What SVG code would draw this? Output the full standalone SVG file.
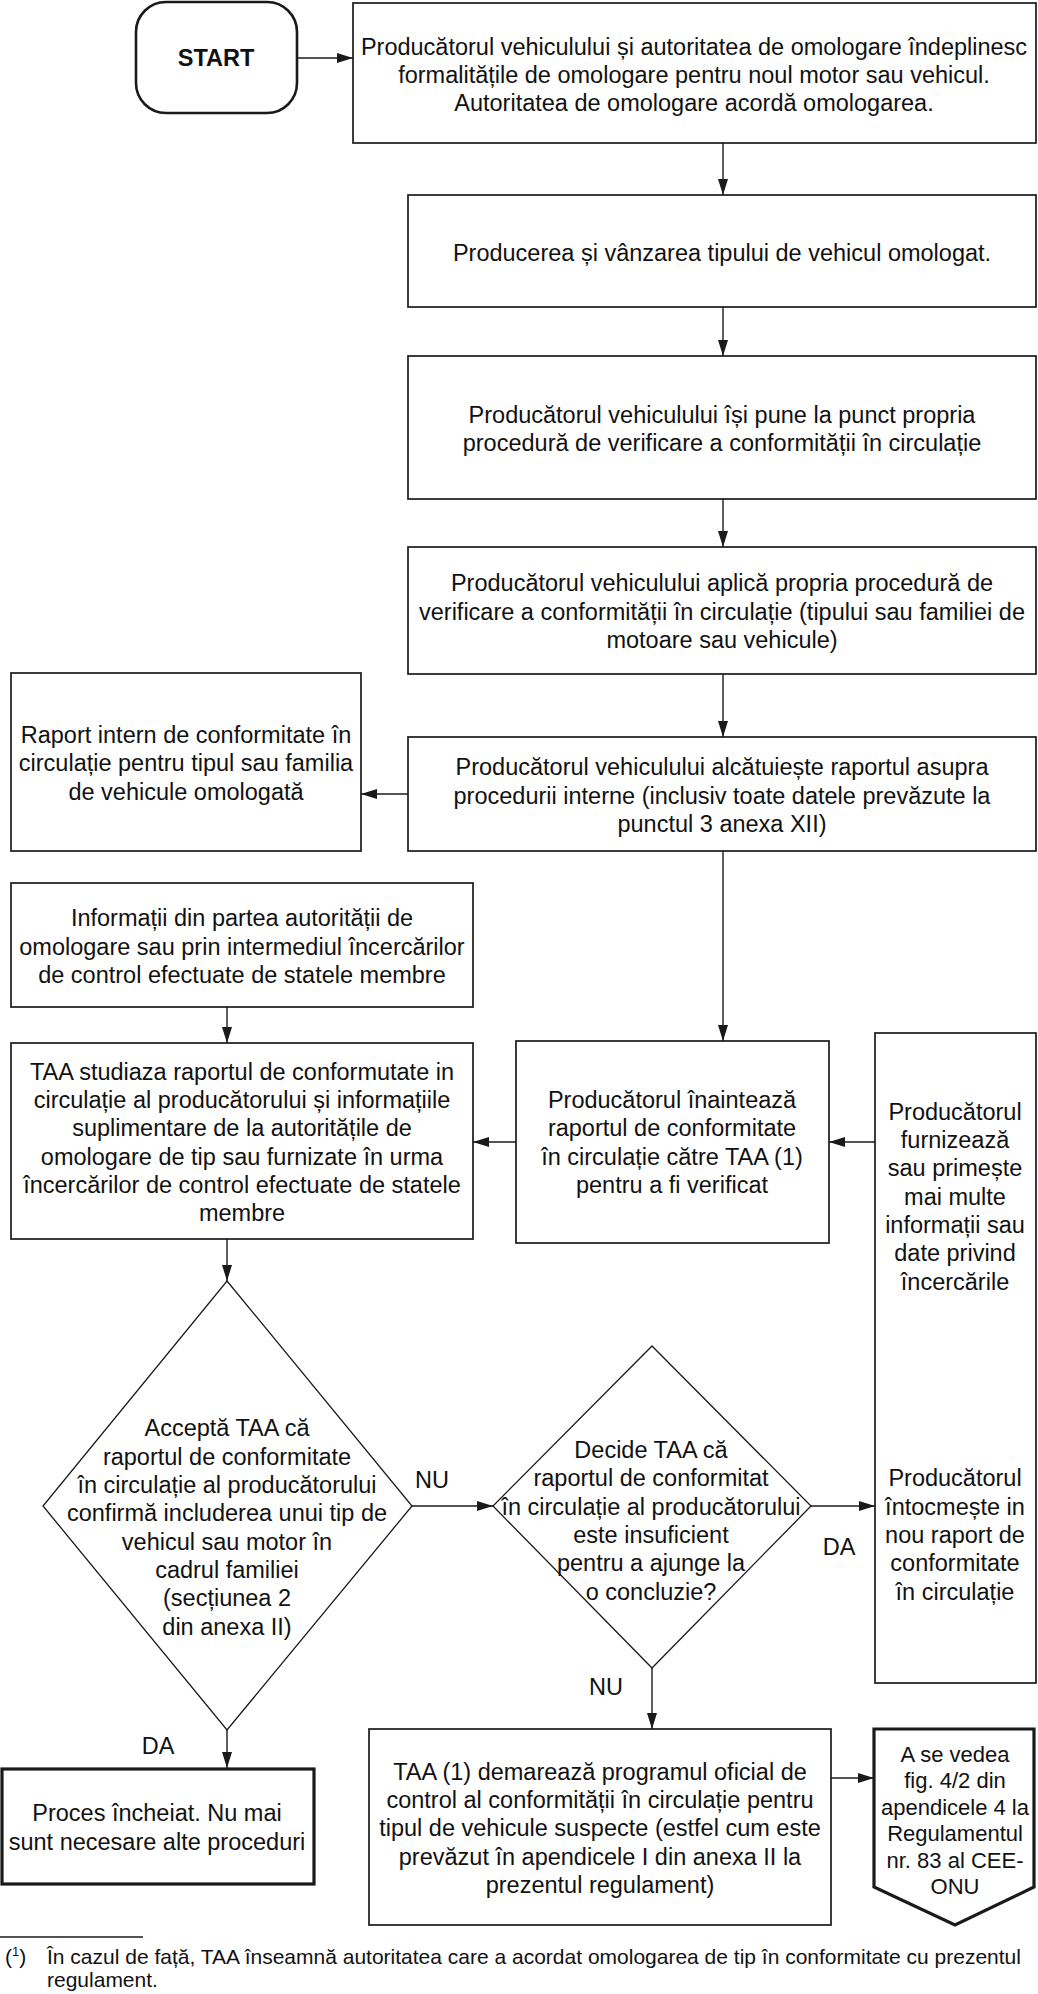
<svg xmlns="http://www.w3.org/2000/svg" width="1038" height="1994" viewBox="0 0 1038 1994">
<style>
.box{fill:#fff;stroke:#1a1a1a;stroke-width:1.7}
.thick{stroke-width:3.2}
.dia{fill:#fff;stroke:#1a1a1a;stroke-width:1.3}
.t{font-family:"Liberation Sans",Arial,sans-serif;font-size:23.5px;text-anchor:middle;fill:#111}
.s{font-size:22px}
.b{font-weight:bold}
.fn{font-family:"Liberation Sans",Arial,sans-serif;font-size:21px;fill:#111}
.c{fill:none;stroke:#1a1a1a;stroke-width:1.4;marker-end:url(#ah)}
</style>
<defs>
<marker id="ah" markerWidth="16" markerHeight="10" refX="16" refY="5" orient="auto" markerUnits="userSpaceOnUse">
<path d="M0,0 L16,5 L0,10 z" fill="#1a1a1a"/>
</marker>
</defs>
<rect width="1038" height="1994" fill="#fff"/>

<g id="connectors">
<line class="c" x1="297" y1="58" x2="353" y2="58"/>
<line class="c" x1="723" y1="143" x2="723" y2="195"/>
<line class="c" x1="723" y1="307" x2="723" y2="356"/>
<line class="c" x1="723" y1="499" x2="723" y2="547"/>
<line class="c" x1="723" y1="674" x2="723" y2="737"/>
<line class="c" x1="408" y1="794" x2="361" y2="794"/>
<line class="c" x1="723" y1="851" x2="723" y2="1041"/>
<line class="c" x1="227" y1="1007" x2="227" y2="1043"/>
<line class="c" x1="516" y1="1142" x2="473" y2="1142"/>
<line class="c" x1="875" y1="1142" x2="829" y2="1142"/>
<line class="c" x1="227" y1="1239" x2="227" y2="1281"/>
<line class="c" x1="412" y1="1506" x2="493" y2="1506"/>
<line class="c" x1="811" y1="1506" x2="875" y2="1506"/>
<line class="c" x1="227" y1="1730" x2="227" y2="1768"/>
<line class="c" x1="652" y1="1668" x2="652" y2="1729"/>
<line class="c" x1="831" y1="1778" x2="874" y2="1778"/>
<text class="t" x="432" y="1488">NU</text>
<text class="t" x="839" y="1555">DA</text>
<text class="t" x="158" y="1754">DA</text>
<text class="t" x="606" y="1695">NU</text>
</g>

<g id="start">
<rect class="box" x="136" y="2" width="161" height="111" rx="30" ry="30" style="stroke-width:2.6"/>
<text class="t b" x="216" y="66">START</text>
</g>

<g id="n1">
<rect class="box" x="353" y="3" width="683" height="140"/>
<text class="t" x="694" y="55">Producătorul vehiculului și autoritatea de omologare îndeplinesc</text>
<text class="t" x="694" y="83">formalitățile de omologare pentru noul motor sau vehicul.</text>
<text class="t" x="694" y="111">Autoritatea de omologare acordă omologarea.</text>
</g>

<g id="n2">
<rect class="box" x="408" y="195" width="628" height="112"/>
<text class="t" x="722" y="261">Producerea și vânzarea tipului de vehicul omologat.</text>
</g>

<g id="n3">
<rect class="box" x="408" y="356" width="628" height="143"/>
<text class="t" x="722" y="423">Producătorul vehiculului își pune la punct propria</text>
<text class="t" x="722" y="451">procedură de verificare a conformității în circulație</text>
</g>

<g id="n4">
<rect class="box" x="408" y="547" width="628" height="127"/>
<text class="t" x="722" y="591">Producătorul vehiculului aplică propria procedură de</text>
<text class="t" x="722" y="620">verificare a conformității în circulație (tipului sau familiei de</text>
<text class="t" x="722" y="648">motoare sau vehicule)</text>
</g>

<g id="n5">
<rect class="box" x="408" y="737" width="628" height="114"/>
<text class="t" x="722" y="775">Producătorul vehiculului alcătuiește raportul asupra</text>
<text class="t" x="722" y="804">procedurii interne (inclusiv toate datele prevăzute la</text>
<text class="t" x="722" y="832">punctul 3 anexa XII)</text>
</g>

<g id="raport">
<rect class="box" x="11" y="673" width="350" height="178"/>
<text class="t" x="186" y="743">Raport intern de conformitate în</text>
<text class="t" x="186" y="771">circulație pentru tipul sau familia</text>
<text class="t" x="186" y="800">de vehicule omologată</text>
</g>

<g id="informatii">
<rect class="box" x="11" y="883" width="462" height="124"/>
<text class="t" x="242" y="926">Informații din partea autorității de</text>
<text class="t" x="242" y="955">omologare sau prin intermediul încercărilor</text>
<text class="t" x="242" y="983">de control efectuate de statele membre</text>
</g>

<g id="taa-studiaza">
<rect class="box" x="11" y="1043" width="462" height="196"/>
<text class="t" x="242" y="1080">TAA studiaza raportul de conformutate in</text>
<text class="t" x="242" y="1108">circulație al producătorului și informațiile</text>
<text class="t" x="242" y="1136">suplimentare de la autoritățile de</text>
<text class="t" x="242" y="1165">omologare de tip sau furnizate în urma</text>
<text class="t" x="242" y="1193">încercărilor de control efectuate de statele</text>
<text class="t" x="242" y="1221">membre</text>
</g>

<g id="inainteaza">
<rect class="box" x="516" y="1041" width="313" height="202"/>
<text class="t" x="672" y="1108">Producătorul înaintează</text>
<text class="t" x="672" y="1136">raportul de conformitate</text>
<text class="t" x="672" y="1165">în circulație către TAA (1)</text>
<text class="t" x="672" y="1193">pentru a fi verificat</text>
</g>

<g id="producator-furnizeaza">
<rect class="box" x="875" y="1033" width="161" height="650"/>
<text class="t" x="955" y="1120">Producătorul</text>
<text class="t" x="955" y="1148">furnizează</text>
<text class="t" x="955" y="1176">sau primește</text>
<text class="t" x="955" y="1205">mai multe</text>
<text class="t" x="955" y="1233">informații sau</text>
<text class="t" x="955" y="1261">date privind</text>
<text class="t" x="955" y="1290">încercările</text>
<text class="t" x="955" y="1486">Producătorul</text>
<text class="t" x="955" y="1515">întocmește in</text>
<text class="t" x="955" y="1543">nou raport de</text>
<text class="t" x="955" y="1571">conformitate</text>
<text class="t" x="955" y="1600">în circulație</text>
</g>

<g id="decizie1">
<polygon class="dia" points="227,1281 412,1506 227,1730 43,1506"/>
<text class="t" x="227" y="1436">Acceptă TAA că</text>
<text class="t" x="227" y="1465">raportul de conformitate</text>
<text class="t" x="227" y="1493">în circulație al producătorului</text>
<text class="t" x="227" y="1521">confirmă includerea unui tip de</text>
<text class="t" x="227" y="1550">vehicul sau motor în</text>
<text class="t" x="227" y="1578">cadrul familiei</text>
<text class="t" x="227" y="1606">(secțiunea 2</text>
<text class="t" x="227" y="1635">din anexa II)</text>
</g>

<g id="decizie2">
<polygon class="dia" points="652,1346 811,1506 652,1668 493,1506"/>
<text class="t" x="651" y="1458">Decide TAA că</text>
<text class="t" x="651" y="1486">raportul de conformitat</text>
<text class="t" x="651" y="1515">în circulație al producătorului</text>
<text class="t" x="651" y="1543">este insuficient</text>
<text class="t" x="651" y="1571">pentru a ajunge la</text>
<text class="t" x="651" y="1600">o concluzie?</text>
</g>

<g id="proces-incheiat">
<rect class="box thick" x="2" y="1769" width="312" height="115"/>
<text class="t" x="157" y="1821">Proces încheiat. Nu mai</text>
<text class="t" x="157" y="1850">sunt necesare alte proceduri</text>
</g>

<g id="taa-demareaza">
<rect class="box" x="369" y="1729" width="462" height="196"/>
<text class="t" x="600" y="1780">TAA (1) demarează programul oficial de</text>
<text class="t" x="600" y="1808">control al conformității în circulație pentru</text>
<text class="t" x="600" y="1836">tipul de vehicule suspecte (estfel cum este</text>
<text class="t" x="600" y="1865">prevăzut în apendicele I din anexa II la</text>
<text class="t" x="600" y="1893">prezentul regulament)</text>
</g>

<g id="vezi-fig">
<polygon class="box thick" points="874,1729 1034,1729 1034,1887 955,1925 874,1887"/>
<text class="t s" x="955" y="1762">A se vedea</text>
<text class="t s" x="955" y="1788">fig. 4/2 din</text>
<text class="t s" x="955" y="1815">apendicele 4 la</text>
<text class="t s" x="955" y="1841">Regulamentul</text>
<text class="t s" x="955" y="1868">nr. 83 al CEE-</text>
<text class="t s" x="955" y="1894">ONU</text>
</g>

<g id="footnote">
<line x1="0" y1="1937" x2="143" y2="1937" stroke="#1a1a1a" stroke-width="1.4"/>
<text class="fn" x="5" y="1964">(<tspan font-size="13" dy="-8">1</tspan><tspan dy="8">)</tspan></text>
<text class="fn" x="47" y="1964">În cazul de față, TAA înseamnă autoritatea care a acordat omologarea de tip în conformitate cu prezentul</text>
<text class="fn" x="47" y="1987">regulament.</text>
</g>
</svg>
